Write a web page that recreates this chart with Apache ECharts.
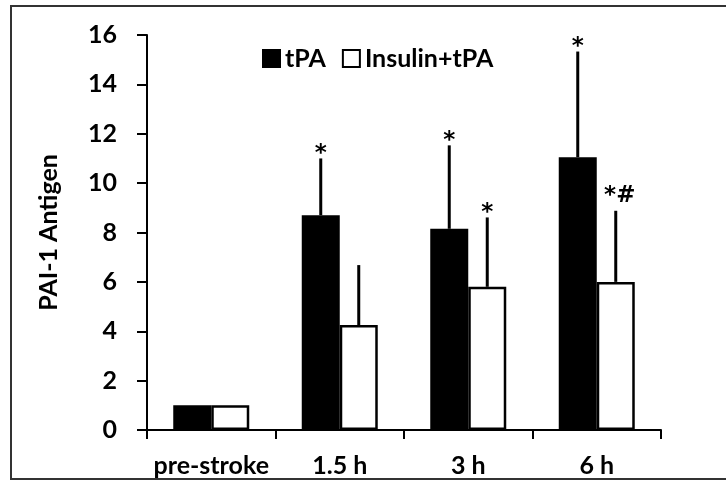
<!DOCTYPE html>
<html>
<head>
<meta charset="utf-8">
<script src="https://cdn.jsdelivr.net/npm/echarts@6/dist/echarts.min.js"></script>
<style>
  body { margin: 0; background: #fff; }
  #chart { width: 726px; height: 480px; }
</style>
</head>
<body>
<div id="chart"></div>
<script>
// data
var categories = ['pre-stroke', '1.5 h', '3 h', '6 h'];
var tpaMean = [1.0, 8.7, 8.15, 11.05];
var tpaSd = [0, 2.3, 3.38, 4.28];
var insulinMean = [1.0, 4.25, 5.8, 6.0];
var insulinSd = [0, 2.43, 2.81, 2.88];
var tpaMarks = ['', '*', '*', '*'];
var insulinMarks = ['', '', '*', '*#'];

var FONT = 'Lato, "Open Sans", sans-serif';
var BAR_W = 38;

function errData(mean, sd) {
  var out = [];
  for (var i = 0; i < mean.length; i++) {
    out.push([i, mean[i], sd[i]]);
  }
  return out;
}

function errRender(offset, marks) {
  return function (params, api) {
    var idx = api.value(0);
    var mean = api.value(1);
    var sd = api.value(2);
    var mark = marks[params.dataIndex];
    var p0 = api.coord([idx, mean]);
    var p1 = api.coord([idx, mean + sd]);
    var x = p0[0] + offset;
    var children = [];
    if (sd > 0) {
      children.push({
        type: 'line',
        shape: { x1: x, y1: p0[1], x2: x, y2: p1[1] },
        style: { stroke: '#000', lineWidth: 3 }
      });
    }
    if (mark) {
      var two = mark.length > 1;
      children.push({
        type: 'text',
        x: x + (two ? 4 : 0),
        y: p1[1] + (two ? -3 : 7),
        style: {
          text: mark,
          fill: '#000',
          font: 'bold 23px "DejaVu Sans", sans-serif',
          align: 'center',
          verticalAlign: 'bottom'
        }
      });
    }
    return { type: 'group', children: children };
  };
}

var dom = document.getElementById('chart');
var myChart = echarts.init(dom);
var option = {
  animation: false,
  backgroundColor: '#fff',
  graphic: [{
    type: 'rect',
    shape: { x: 11, y: 6, width: 740, height: 473 },
    style: { fill: 'none', stroke: '#333', lineWidth: 2 },
    silent: true
  }],
  legend: {
    top: 41,
    left: 257,
    icon: 'rect',
    itemWidth: 17,
    itemHeight: 17,
    itemGap: 16,
    textStyle: { fontFamily: FONT, fontWeight: 'bold', fontSize: 25, color: '#000' },
    data: [
      { name: 'tPA', itemStyle: { color: '#000', borderColor: '#000', borderWidth: 2 } },
      { name: 'Insulin+tPA', itemStyle: { color: '#fff', borderColor: '#000', borderWidth: 2 } }
    ]
  },
  grid: { left: 147, right: 65, top: 35, bottom: 50 },
  xAxis: {
    type: 'category',
    data: categories,
    axisLine: { lineStyle: { color: '#000', width: 2 } },
    axisTick: { show: true, length: 9, lineStyle: { color: '#000', width: 2 } },
    axisLabel: { interval: 0, margin: 23, color: '#000', fontFamily: FONT, fontWeight: 'bold', fontSize: 25 }
  },
  yAxis: {
    type: 'value',
    min: 0,
    max: 16,
    interval: 2,
    name: 'PAI-1 Antigen',
    nameLocation: 'middle',
    nameGap: 86,
    nameTextStyle: { color: '#000', fontFamily: FONT, fontWeight: 'bold', fontSize: 25 },
    splitLine: { show: false },
    axisLine: { show: true, lineStyle: { color: '#000', width: 2 } },
    axisTick: { show: true, length: 10, lineStyle: { color: '#000', width: 2 } },
    axisLabel: { margin: 30, color: '#000', fontFamily: FONT, fontWeight: 'bold', fontSize: 25 }
  },
  series: [
    {
      name: 'tPA',
      type: 'bar',
      barWidth: BAR_W,
      barGap: '0%',
      data: tpaMean,
      itemStyle: { color: '#000', borderColor: '#000', borderWidth: 2.5 }
    },
    {
      name: 'Insulin+tPA',
      type: 'bar',
      barWidth: BAR_W,
      barGap: '0%',
      data: insulinMean,
      itemStyle: { color: '#fff', borderColor: '#000', borderWidth: 2.5 }
    },
    {
      type: 'custom',
      renderItem: errRender(-BAR_W / 2, tpaMarks),
      data: errData(tpaMean, tpaSd),
      z: 5,
      silent: true
    },
    {
      type: 'custom',
      renderItem: errRender(BAR_W / 2, insulinMarks),
      data: errData(insulinMean, insulinSd),
      z: 5,
      silent: true
    }
  ]
};
myChart.setOption(option);
window.onresize = myChart.resize;
</script>
</body>
</html>
